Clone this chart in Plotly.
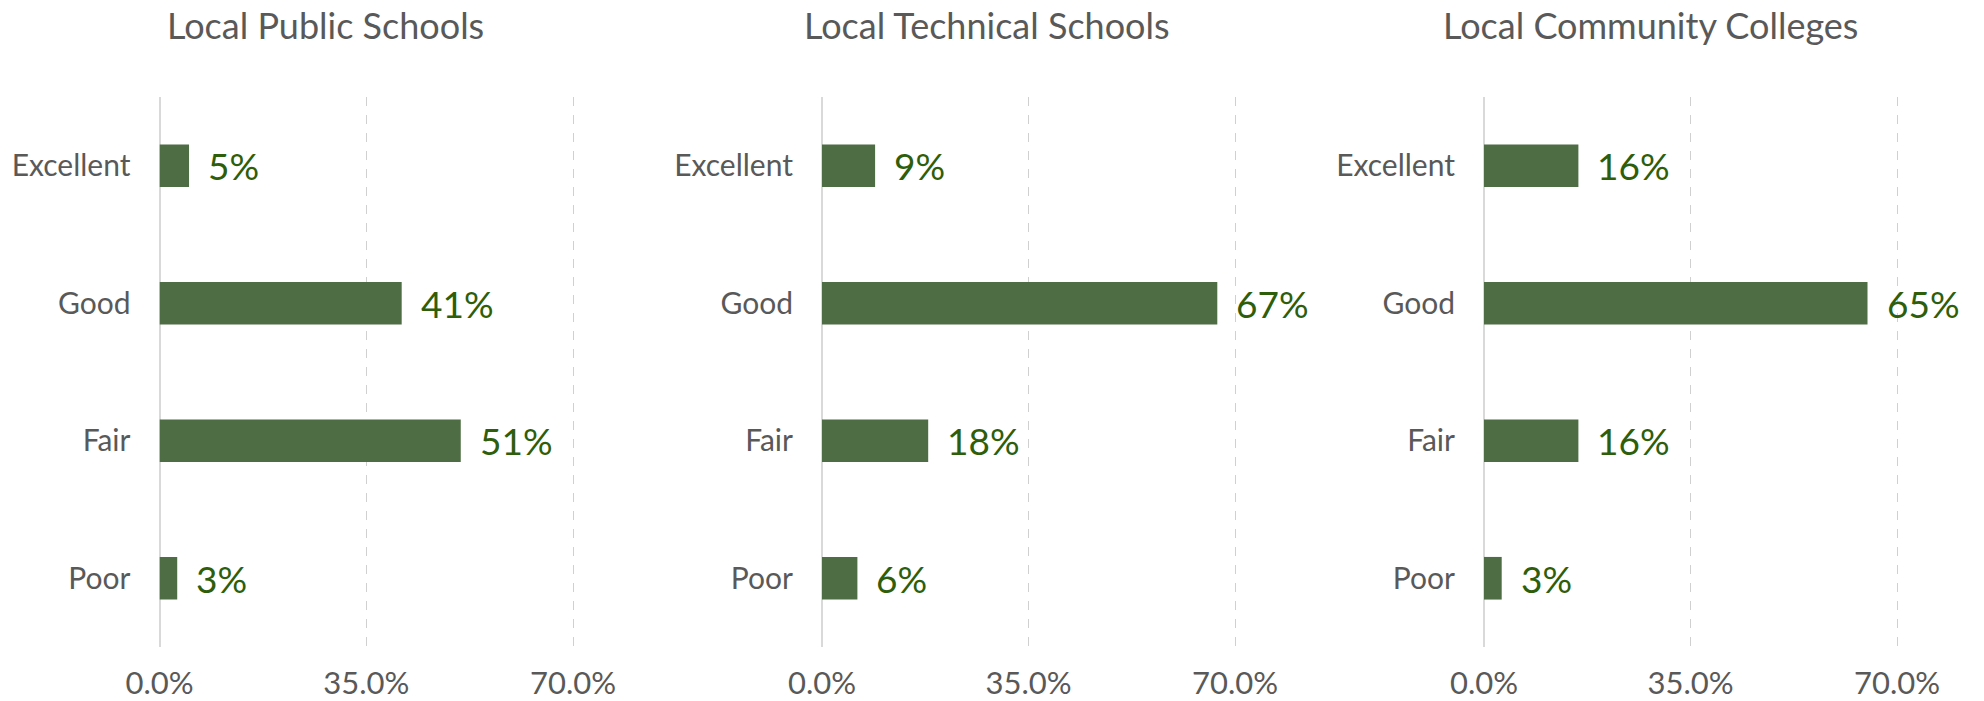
import plotly.graph_objects as go

# Survey ratings by institution type
ratings = ["Excellent", "Good", "Fair", "Poor"]
panel_titles = ["Local Public Schools", "Local Technical Schools", "Local Community Colleges"]
public_schools = [0.05, 0.41, 0.51, 0.03]
technical_schools = [0.09, 0.67, 0.18, 0.06]
community_colleges = [0.16, 0.65, 0.16, 0.03]
x_ticks = [0.0, 0.35, 0.70]

series = [public_schools, technical_schools, community_colleges]

W, H = 1984, 701
BAR = "#4E6D44"
LABEL = "#2E5E0A"
GREY = "#595959"
FONT = "Lato"

# Panel plot areas in pixels: left edge (0%) and position of the 70% gridline
panels_px = [(159.5, 573), (822, 1235), (1484, 1897)]
title_cx = [325, 987, 1650]
top_px, bot_px = 97, 647
X_MAX = 0.72  # a little room so the 70% gridline is not clipped at the edge

fig = go.Figure()
for i, vals in enumerate(series):
    n = "" if i == 0 else str(i + 1)
    fig.add_trace(go.Bar(
        x=vals, y=ratings, orientation="h",
        marker=dict(color=BAR, line=dict(width=0)),
        xaxis="x" + n, yaxis="y" + n, showlegend=False,
        hoverinfo="x+y",
    ))
    l, r70 = panels_px[i]
    r = l + (r70 - l) * X_MAX / 0.70
    fig.update_layout(**{
        "xaxis" + n: dict(
            domain=[l / W, r / W], range=[0, X_MAX], tickvals=x_ticks,
            tickformat=".1%", showgrid=True, gridcolor="#D0D0D0", griddash="dash",
            gridwidth=1.3, zeroline=True, zerolinecolor="#D9D9D9", zerolinewidth=2,
            showline=False, ticks="", ticklabelstandoff=15, automargin=False,
            tickfont=dict(family=FONT, size=31, color=GREY),
            anchor="y" + n, fixedrange=True,
        ),
        "yaxis" + n: dict(
            domain=[1 - bot_px / H, 1 - top_px / H], categoryorder="array",
            categoryarray=ratings, autorange="reversed", showgrid=False,
            zeroline=False, showline=False, ticks="", ticklabelstandoff=28,
            automargin=False,
            tickfont=dict(family=FONT, size=30, color=GREY),
            anchor="x" + n, fixedrange=True,
        ),
    })
    # Value labels beside each bar
    for v, cat in zip(vals, ratings):
        fig.add_annotation(
            x=v, y=cat, xref="x" + n, yref="y" + n, text=f"{v:.0%}",
            showarrow=False, xanchor="left", xshift=17,
            font=dict(family=FONT, size=37, color=LABEL),
        )
    fig.add_annotation(
        x=title_cx[i] / W, y=1 - 25 / H, xref="paper", yref="paper",
        text=panel_titles[i], showarrow=False, xanchor="center", yanchor="middle",
        font=dict(family=FONT, size=36, color=GREY),
    )

fig.update_layout(
    width=W, height=H, margin=dict(l=0, r=0, t=0, b=0),
    paper_bgcolor="white", plot_bgcolor="white", bargap=0.69,
    template="none",
)
fig.write_html("out.html")
